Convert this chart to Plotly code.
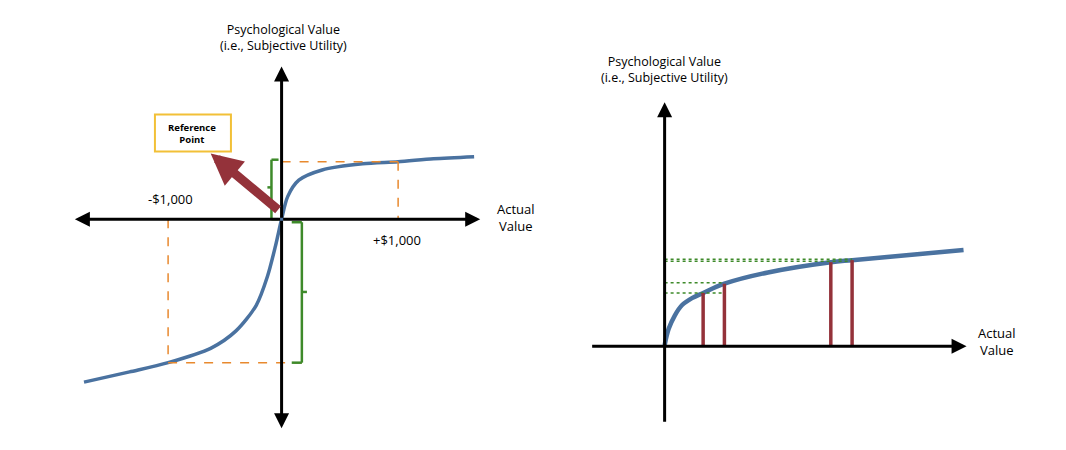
import plotly.graph_objects as go

# Left panel: value function (gains/losses), picture coordinates
left_x = [75, 120, 158, 200, 225, 245, 256, 264, 270, 276, 287, 310, 350, 385, 420, 460]
left_y = [365, 355, 346, 332, 315, 290, 262, 232, 206, 184, 168, 158, 152, 150, 147, 145]
# Right panel: concave gain curve
right_x = [648, 652, 658, 665, 675, 686, 707, 750, 812, 833, 900, 943]
right_y = [329, 313, 300, 290, 283, 278, 269, 258, 248, 246, 240, 236]
# Right panel bars (x positions, tops)
bar_x = [686, 707, 812, 833]
bar_top = [278, 269, 248, 246]
dotted_y = [278, 268, 247, 245]
dotted_end = [707, 707, 833, 833]

BLUE = "#4a72a0"
RED = "#94323a"
ORANGE = "#e8892e"
GREEN = "#3e8a2a"
F = "Open Sans"

fig = go.Figure()
fig.add_trace(go.Scatter(x=left_x, y=left_y, mode="lines", line=dict(color=BLUE, width=3.5, shape="spline", smoothing=0.8), hoverinfo="skip"))
fig.add_trace(go.Scatter(x=right_x, y=right_y, mode="lines", line=dict(color=BLUE, width=4.5, shape="spline"), hoverinfo="skip"))

shapes = []
def line(x0, y0, x1, y1, color="black", width=3, dash="solid"):
    shapes.append(dict(type="line", x0=x0, y0=y0, x1=x1, y1=y1, xref="x", yref="y",
                       line=dict(color=color, width=width, dash=dash)))

# orange dashed guides
line(270, 150, 385, 150, ORANGE, 1.5, "dash")
line(385, 150, 385, 206, ORANGE, 1.5, "dash")
line(158, 206, 158, 346, ORANGE, 1.5, "dash")
line(158, 346, 290, 346, ORANGE, 1.5, "dash")
# green brackets
line(260, 148, 267, 148, GREEN, 2.5); line(260, 148, 260, 206, GREEN, 2.5); line(260, 206, 267, 206, GREEN, 2.5)
line(256, 175, 260, 175, GREEN, 2.5)
line(280, 209, 290, 209, GREEN, 2.5); line(290, 209, 290, 346, GREEN, 2.5); line(280, 346, 290, 346, GREEN, 2.5)
line(290, 277, 295, 277, GREEN, 2.5)
# right green dotted
for yv, xe in zip(dotted_y, dotted_end):
    line(648, yv, xe, yv, GREEN, 1.5, "dot")
# red bars
for bx, bt in zip(bar_x, bar_top):
    line(bx, 330, bx, bt, RED, 3.5)
# reference point box
shapes.append(dict(type="rect", x0=145, y0=104, x1=220, y1=140, xref="x", yref="y",
                   line=dict(color="#f2c037", width=2), fillcolor="white"))
fig.update_layout(shapes=shapes)

def arrow(x0, y0, x1, y1, color="black", width=3, size=1.0):
    fig.add_annotation(x=x1, y=y1, ax=x0, ay=y0, xref="x", yref="y", axref="x", ayref="y",
                       showarrow=True, arrowhead=2, arrowsize=size, arrowwidth=width, arrowcolor=color, text="")

# left axes (double-headed)
arrow(270, 206, 466, 206); arrow(270, 206, 66, 206)
arrow(270, 206, 270, 57); arrow(270, 206, 270, 410)
# right axes
arrow(575, 330, 946, 330); arrow(648, 405, 648, 92)
# reference arrow
arrow(268, 198, 200, 142, RED, 9, 0.7)

def text(x, y, s, size=12, align="center"):
    fig.add_annotation(x=x, y=y, xref="x", yref="y", text=s, showarrow=False,
                       font=dict(family=F, size=size, color="black"), align=align)

text(272, 29, "Psychological Value<br>(i.e., Subjective Utility)", 12.5)
text(182, 122, "<b>Reference<br>Point</b>", 9.5)
text(160, 186, "-$1,000", 13)
text(384, 226, "+$1,000", 13)
text(501, 204, "Actual<br>Value", 13)
text(648, 60, "Psychological Value<br>(i.e., Subjective Utility)", 12.5)
text(976, 325, "Actual<br>Value", 13)

fig.update_xaxes(range=[0, 1052], visible=False)
fig.update_yaxes(range=[439, 0], visible=False)
fig.update_layout(width=1066, height=450, margin=dict(l=0, r=0, t=0, b=0),
                  plot_bgcolor="white", paper_bgcolor="white", showlegend=False)
fig.write_html("out.html")
